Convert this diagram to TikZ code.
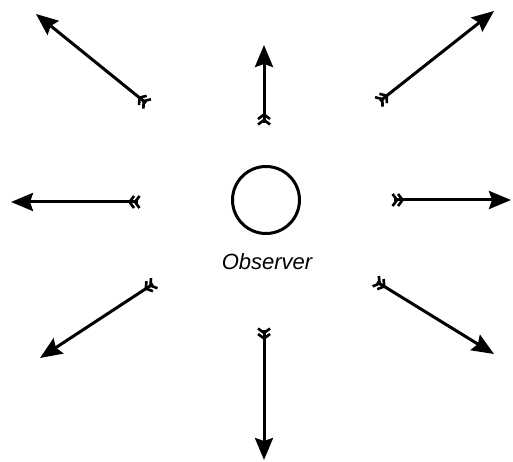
\documentclass[tikz,border=0pt]{standalone}
\usepackage{fontspec}
\setmainfont{Liberation Sans}
\usetikzlibrary{arrows.meta,decorations.markings}
\tikzset{
  chev/.style={-, line width=2.6pt, line cap=butt, line join=miter},
  headtip/.tip={Stealth[length=22pt,width=18pt,inset=3pt]},
  fletched/.style={line width=3pt, -headtip,
    postaction={decorate},
    decoration={markings,
      mark=at position 3pt with {\draw[chev] (-4.5pt,6pt)--(0,0)--(-4.5pt,-6pt);},
      mark=at position 8.5pt with {\draw[chev] (-4.5pt,6pt)--(0,0)--(-4.5pt,-6pt);}}},
  observer/.style={circle, draw, line width=3pt, minimum size=67pt, inner sep=0pt},
  lbl/.style={font=\fontsize{22}{25}\selectfont\itshape, inner sep=0pt}
}
\begin{document}
\begin{tikzpicture}[x=1pt,y=-1pt]
\useasboundingbox (0,0) rectangle (513,462);
\node[observer] (obs) at (266,200) {};
\node[lbl] (name) at (267,262) {Observer};
% tails and heads
\coordinate (t1) at (146,103); \coordinate (h1) at (36,14);
\coordinate (t2) at (264,123); \coordinate (h2) at (264,45);
\coordinate (t3) at (380,101); \coordinate (h3) at (494,11);
\coordinate (t4) at (138,202); \coordinate (h4) at (11,202);
\coordinate (t5) at (394,200); \coordinate (h5) at (511,200);
\coordinate (t6) at (153,284); \coordinate (h6) at (40,358);
\coordinate (t7) at (264,330); \coordinate (h7) at (264,460);
\coordinate (t8) at (377,282); \coordinate (h8) at (494,354);
\foreach \i in {1,...,8} \draw[fletched] (t\i) -- (h\i);
\end{tikzpicture}
\end{document}
